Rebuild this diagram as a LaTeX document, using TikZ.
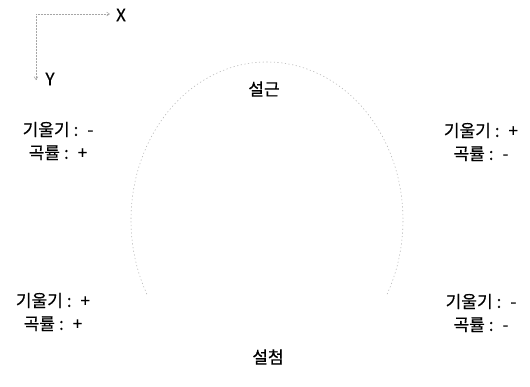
\documentclass[tikz,border=0pt]{standalone}
\usepackage{fontspec}
\setmainfont{Noto Sans CJK KR}[FakeBold=0.5]
\usetikzlibrary{arrows.meta}
\newcommand{\kv}[2]{#1\hspace{4pt}:\hspace{9pt}#2}
\begin{document}
\begin{tikzpicture}[x=1pt,y=-1pt,
  lbl/.style={font=\fontsize{17}{23}\selectfont, align=center, inner sep=0pt},
  axis/.style={gray!70, densely dotted, line width=0.5pt, -{Straight Barb[length=3pt,width=4pt]}},
  curve/.style={gray!60, dash pattern=on 1.2pt off 2.5pt, line width=0.55pt}]
\useasboundingbox (0,0) rectangle (530,386);
\coordinate (o) at (36,14);
\coordinate (xe) at (110,14);
\coordinate (ye) at (36,80);
\draw[axis] (o) -- (xe);
\draw[axis] (o) -- (ye);
\node[lbl, anchor=center] (X) at (121,15) {X};
\node[lbl, anchor=center] (Y) at (50,79) {Y};
\draw[curve] (267,220) ++(152:136 and 158) arc[start angle=152, end angle=388, x radius=136, y radius=158];
\node[lbl] (top) at (264,89) {설근};
\node[lbl] (bot) at (268,357) {설첨};
\node[lbl] (lt) at (58,141) {\kv{기울기}{-}\\\kv{곡률}{+}};
\node[lbl] (rt) at (481,142) {\kv{기울기}{+}\\\kv{곡률}{-}};
\node[lbl] (lb) at (53,312) {\kv{기울기}{+}\\\kv{곡률}{+}};
\node[lbl] (rb) at (481,313) {\kv{기울기}{-}\\\kv{곡률}{-}};
\end{tikzpicture}
\end{document}
